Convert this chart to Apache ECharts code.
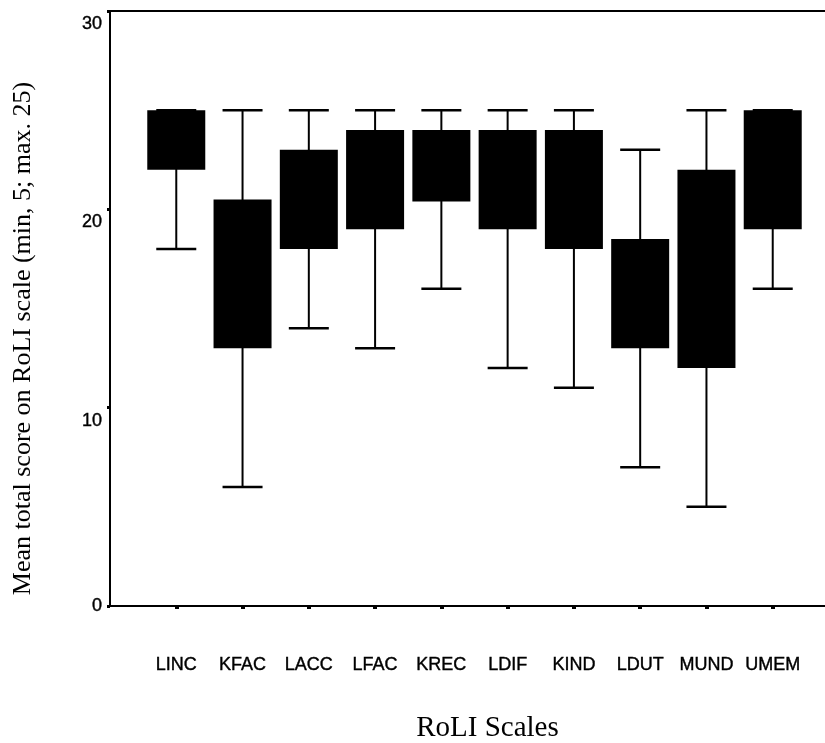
<!DOCTYPE html>
<html>
<head>
<meta charset="utf-8">
<script src="https://cdn.jsdelivr.net/npm/echarts@6/dist/echarts.min.js"></script>
<style>
  html, body { margin: 0; padding: 0; background: #fff; }
  #chart { width: 825px; height: 743px; }
</style>
</head>
<body>
<div id="chart"></div>
<script>
let scales = ['LINC', 'KFAC', 'LACC', 'LFAC', 'KREC', 'LDIF', 'KIND', 'LDUT', 'MUND', 'UMEM'];
let lows  = [18, 6, 14, 13, 16, 12, 11, 7, 5, 16];
let q1s   = [22, 13, 18, 19, 20.4, 19, 18, 13, 12, 19];
let q3s   = [25, 20.5, 23, 24, 24, 24, 24, 18.5, 22, 25];
let highs = [25, 25, 25, 25, 25, 25, 25, 23, 25, 25];
let yTicks = [0, 10, 20, 30];

// empty slot on each side, the boxes sit on whole steps
let axisCats = [''].concat(scales, ['']);
let boxData = scales.map(function (s, i) {
  return [i + 1, lows[i], q1s[i], q3s[i], highs[i]];
});

function renderItem(params, api) {
  let x = api.value(0);
  let lo = api.coord([x, api.value(1)]);
  let b1 = api.coord([x, api.value(2)]);
  let b3 = api.coord([x, api.value(3)]);
  let hi = api.coord([x, api.value(4)]);
  let cx = lo[0];
  let ink = { stroke: '#000', lineWidth: 2 };
  let cap = { stroke: '#000', lineWidth: 2.5 };
  return {
    type: 'group',
    children: [
      { type: 'line', shape: { x1: cx, y1: hi[1], x2: cx, y2: lo[1] }, style: ink },
      { type: 'line', shape: { x1: cx - 20, y1: hi[1], x2: cx + 20, y2: hi[1] }, style: cap },
      { type: 'line', shape: { x1: cx - 20, y1: lo[1], x2: cx + 20, y2: lo[1] }, style: cap },
      { type: 'rect', shape: { x: cx - 29, y: b3[1], width: 58, height: b1[1] - b3[1] }, style: { fill: '#000' } }
    ]
  };
}

let sans = { fontFamily: 'Liberation Sans', fontSize: 18, color: '#000', textBorderColor: '#000', textBorderWidth: 0.4 };

let chart = echarts.init(document.getElementById('chart'));
chart.setOption({
  animation: false,
  backgroundColor: '#fff',
  grid: {
    left: 110, top: 11, width: 729, height: 595,
    outerBoundsMode: 'none',
    containLabel: false,
    show: true, borderColor: '#000', borderWidth: 2, backgroundColor: 'transparent'
  },
  xAxis: {
    type: 'category',
    data: axisCats,
    boundaryGap: false,
    name: 'RoLI Scales',
    nameLocation: 'middle',
    nameGap: 108,
    nameTextStyle: { fontFamily: 'Liberation Serif', fontSize: 29, color: '#000', padding: [0, 0, 0, 26] },
    axisLine: { lineStyle: { color: '#000', width: 2 } },
    axisTick: {
      show: true, length: 3, lineStyle: { color: '#000', width: 4 },
      interval: function (idx) { return idx > 0 && idx <= scales.length; }
    },
    axisLabel: Object.assign({ interval: 0, margin: 50 }, sans),
    splitLine: { show: false }
  },
  yAxis: {
    type: 'value',
    min: yTicks[0],
    max: yTicks[yTicks.length - 1],
    interval: yTicks[1] - yTicks[0],
    name: 'Mean total score on RoLI scale (min, 5; max. 25)',
    nameLocation: 'middle',
    nameRotate: 90,
    nameGap: 74,
    nameTextStyle: { fontFamily: 'Liberation Serif', fontSize: 26, color: '#000', padding: [0, 60, 0, 0] },
    axisLine: { show: true, lineStyle: { color: '#000', width: 2 } },
    axisTick: { show: true, length: 3, lineStyle: { color: '#000', width: 3 } },
    axisLabel: {
      margin: 8,
      formatter: function (v) { return v === 0 ? '{z|0}' : '{d|' + v + '}'; },
      rich: {
        z: sans,
        d: Object.assign({ padding: [26, 0, 0, 0] }, sans)
      }
    },
    splitLine: { show: false }
  },
  series: [{
    type: 'custom',
    renderItem: renderItem,
    encode: { x: 0, y: [1, 2, 3, 4] },
    data: boxData
  }]
});
</script>
</body>
</html>
